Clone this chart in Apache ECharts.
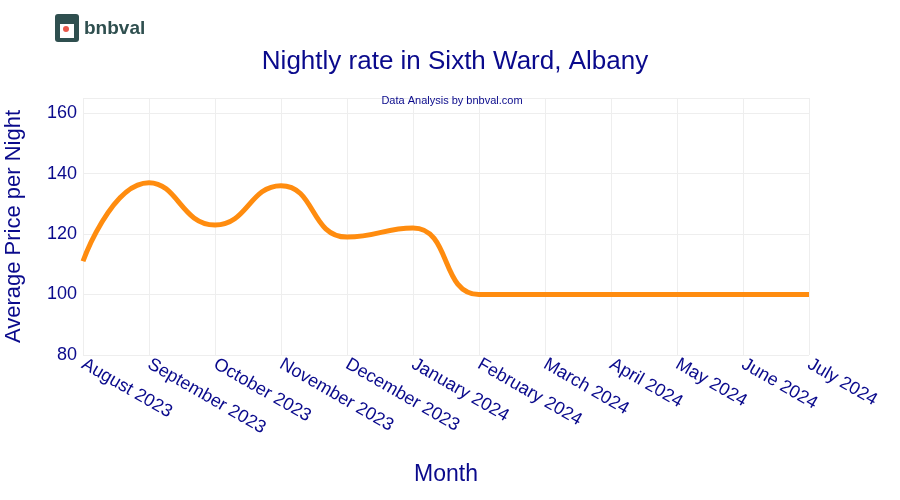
<!DOCTYPE html>
<html>
<head>
<meta charset="utf-8">
<script src="https://cdn.jsdelivr.net/npm/echarts@6/dist/echarts.min.js"></script>
<style>html,body{margin:0;padding:0;background:#fff}#main{width:900px;height:500px}</style>
</head>
<body>
<div id="main"></div>
<script>
// data
const months = ['August 2023', 'September 2023', 'October 2023', 'November 2023', 'December 2023', 'January 2024',
  'February 2024', 'March 2024', 'April 2024', 'May 2024', 'June 2024', 'July 2024'];
const prices = [111, 137, 123, 136, 119, 122, 100, 100, 100, 100, 100, 100];

const navy = '#0a0a8c';
const chart = echarts.init(document.getElementById('main'));
chart.setOption({
  backgroundColor: '#fff',
  title: [
    { text: 'Nightly rate in Sixth Ward, Albany', left: 450, top: 44, textAlign: 'center',
      textStyle: { color: navy, fontSize: 26, fontWeight: 'normal', fontFamily: 'Liberation Sans' } },
    { text: 'Data Analysis by bnbval.com', left: 447, top: 90, textAlign: 'center',
      textStyle: { color: navy, fontSize: 11, fontWeight: 'normal', fontFamily: 'Liberation Sans' } }
  ],
  graphic: [
    { type: 'rect', left: 55, top: 14, shape: { width: 24, height: 28, r: 3 }, style: { fill: '#2f4f4f' } },
    { type: 'rect', left: 60, top: 24, shape: { width: 14, height: 14 }, style: { fill: '#fff' } },
    { type: 'circle', left: 63, top: 26, shape: { r: 3 }, style: { fill: '#e8574a' } },
    { type: 'text', left: 84, top: 19, style: { text: 'bnbval', fill: '#2f4f4f', font: 'bold 19px Liberation Sans' } }
  ],
  grid: { left: 83, right: 91, top: 98, bottom: 145, outerBoundsMode: 'none', containLabel: false },
  xAxis: {
    type: 'category', data: months, boundaryGap: false,
    name: 'Month', nameLocation: 'middle', nameGap: 108,
    nameTextStyle: { color: navy, fontSize: 23, fontFamily: 'Liberation Sans' },
    axisLine: { show: false }, axisTick: { show: false },
    axisLabel: { rotate: -30, color: navy, fontSize: 18, fontFamily: 'Liberation Sans', margin: 8 },
    splitLine: { show: true, lineStyle: { color: '#eeeeee' } }
  },
  yAxis: {
    type: 'value', min: 80, max: 165, interval: 20,
    name: 'Average Price per Night', nameLocation: 'middle', nameGap: 58,
    nameTextStyle: { color: navy, fontSize: 22, fontFamily: 'Liberation Sans' },
    axisLine: { show: false }, axisTick: { show: false },
    axisLabel: { color: navy, fontSize: 18, fontFamily: 'Liberation Sans', margin: 6,
      formatter: v => (v % 20 === 0 ? v : '') },
    splitLine: { lineStyle: { color: '#eeeeee' } }
  },
  series: [{
    type: 'line', data: prices, smooth: 0.5, symbol: 'none',
    lineStyle: { color: '#ff8c0f', width: 5 }
  }]
});
</script>
</body>
</html>
